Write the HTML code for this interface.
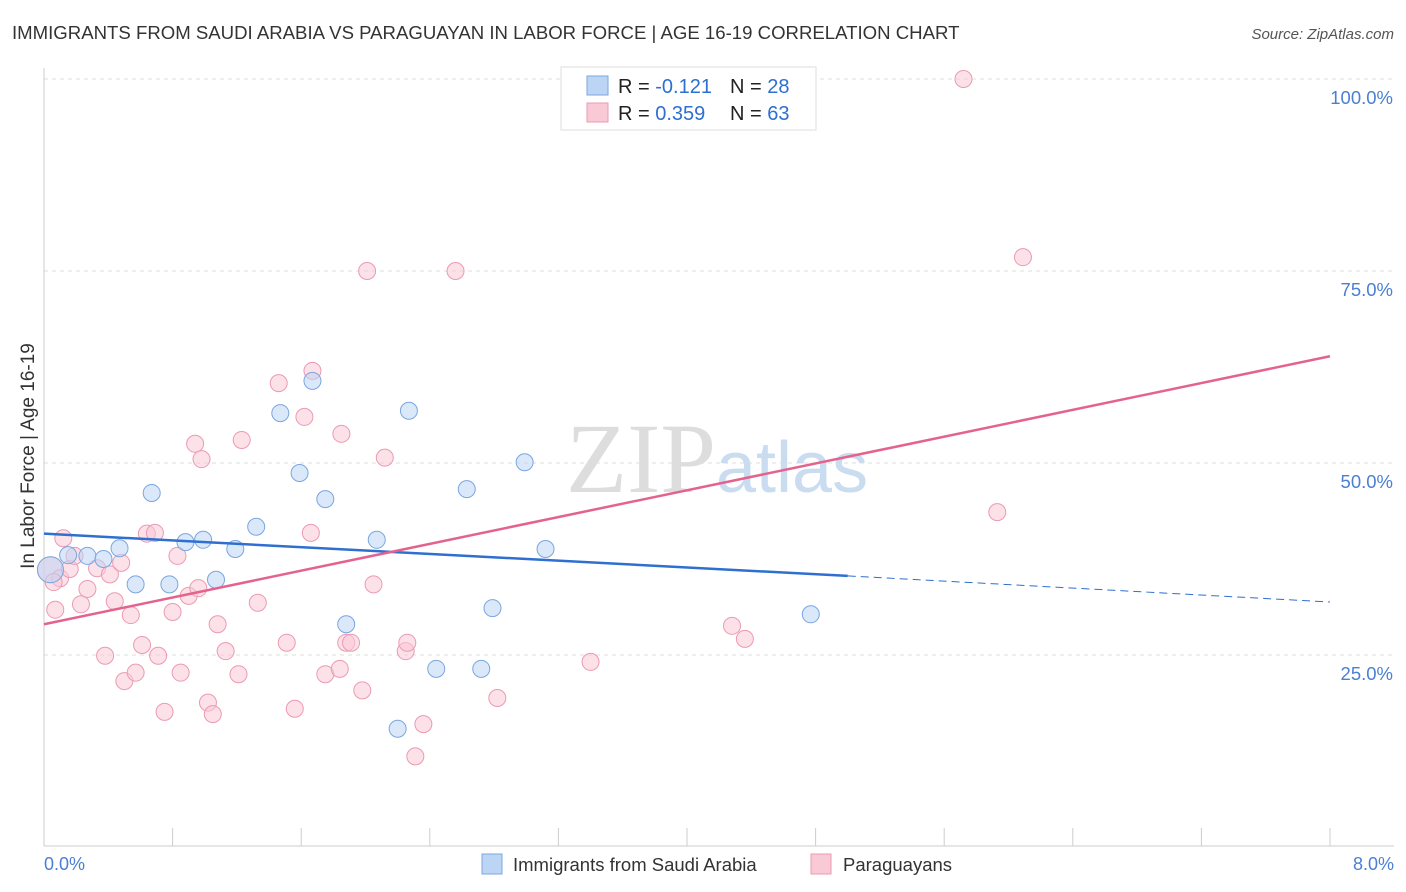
<!DOCTYPE html>
<html><head><meta charset="utf-8"><style>
body{margin:0;background:#fff;font-family:"Liberation Sans",sans-serif;}
svg{display:block}
</style></head><body>
<svg id="chart" width="1406" height="892">
<text x="12" y="39" font-size="18.6" fill="#333">IMMIGRANTS FROM SAUDI ARABIA VS PARAGUAYAN IN LABOR FORCE | AGE 16-19 CORRELATION CHART</text>
<text x="1394" y="39" font-size="15" fill="#555" font-style="italic" text-anchor="end">Source: ZipAtlas.com</text>
<g id="grid"></g>
<g id="axes"></g>
<text x="716" y="492" font-size="100" fill="#ddd" text-anchor="end" font-family="Liberation Serif">ZIP</text>
<text x="716" y="492" font-size="72" fill="#c9dcf0">atlas</text>
<g id="pts"></g>
<g id="lines"></g>
<text transform="translate(34,456) rotate(-90)" font-size="19" fill="#333" text-anchor="middle">In Labor Force | Age 16-19</text>
<text x="44" y="870" font-size="18" fill="#4a7fd4">0.0%</text>
<text x="1394" y="870" font-size="18" fill="#4a7fd4" text-anchor="end">8.0%</text>
<g>
<rect x="561" y="67" width="255" height="63" fill="#fff" stroke="#ddd"/>
<rect x="587" y="76" width="21" height="19" fill="#bcd5f5" stroke="#7aa6e0"/>
<rect x="587" y="103" width="21" height="19" fill="#f9c9d6" stroke="#eb9ab3"/>
<text x="618" y="93" font-size="20" fill="#222">R = <tspan fill="#2e6fd0">-0.121</tspan></text>
<text x="730" y="93" font-size="20" fill="#222">N = <tspan fill="#2e6fd0">28</tspan></text>
<text x="618" y="120" font-size="20" fill="#222">R = <tspan fill="#2e6fd0">0.359</tspan></text>
<text x="730" y="120" font-size="20" fill="#222">N = <tspan fill="#2e6fd0">63</tspan></text>
</g>
<g>
<rect x="482" y="854" width="20" height="20" fill="#bcd5f5" stroke="#7aa6e0"/>
<text x="513" y="871" font-size="18.5" fill="#333">Immigrants from Saudi Arabia</text>
<rect x="811" y="854" width="20" height="20" fill="#f9c9d6" stroke="#eb9ab3"/>
<text x="843" y="871" font-size="18.5" fill="#333">Paraguayans</text>
</g>
</svg>
<script>
const yTicks=[25,50,75,100];
const yTickLabels=["25.0%","50.0%","75.0%","100.0%"];
const blueX=[0.04,0.15,0.27,0.37,0.47,0.57,0.67,0.78,0.88,0.99,1.07,1.19,1.32,1.47,1.59,1.67,1.75,1.88,2.07,2.20,2.27,2.44,2.63,2.72,2.79,2.99,3.12,4.77];
const blueY=[36.1,38.0,37.9,37.5,38.9,34.2,46.1,34.2,39.7,40.0,34.8,38.8,41.7,56.5,48.7,60.7,45.3,29.0,40.0,15.4,56.8,23.2,46.6,23.2,31.1,50.1,38.8,30.3];
const pinkX=[0.04,0.07,0.10,0.12,0.16,0.19,0.23,0.27,0.33,0.38,0.41,0.44,0.48,0.50,0.54,0.57,0.61,0.64,0.69,0.71,0.75,0.80,0.83,0.85,0.90,0.94,0.96,0.98,1.02,1.05,1.08,1.13,1.21,1.23,1.33,1.46,1.51,1.56,1.62,1.66,1.67,1.75,1.84,1.85,1.88,1.91,1.98,2.01,2.05,2.12,2.25,2.26,2.31,2.36,2.56,2.82,3.40,4.28,4.36,5.72,5.93,6.09,0.06];
const pinkY=[36.1,30.9,35.0,40.2,36.2,37.9,31.6,33.6,36.3,24.9,35.5,32.0,37.0,21.6,30.2,22.7,26.3,40.8,40.9,24.9,17.6,30.6,37.9,22.7,32.7,52.5,33.7,50.5,18.8,17.3,29.0,25.5,22.5,53.0,31.8,60.4,26.6,18.0,56.0,40.9,62.0,22.5,23.2,53.8,26.6,26.6,20.4,75.0,34.2,50.7,25.5,26.6,11.8,16.0,75.0,19.4,24.1,28.8,27.1,100,43.6,76.8,34.5];
const blueTrend=[[0,40.8],[5.0,35.3],[8.0,31.9]];
const pinkTrend=[[0,29.0],[8.0,63.9]];
const X0=44,X1=1330,Y0=847,Y100=79;
const sx=v=>X0+(X1-X0)*v/8;
const sy=v=>Y0-(Y0-Y100)*v/100;
const NS="http://www.w3.org/2000/svg";
function mk(tag,attrs,parent){const e=document.createElementNS(NS,tag);for(const k in attrs)e.setAttribute(k,attrs[k]);parent.appendChild(e);return e;}
const grid=document.getElementById('grid'),axes=document.getElementById('axes');
yTicks.forEach((t,i)=>{
 const l=mk('line',{x1:44,x2:1394,y1:sy(t),y2:sy(t),stroke:'#ddd','stroke-dasharray':'4,4'},grid);
 
 
 const tx=mk('text',{x:1393,y:sy(t)+25,'font-size':18.5,fill:'#4a7fd4','text-anchor':'end'},axes);
 tx.textContent=yTickLabels[i];
 
 
});
const ya=mk('line',{x1:44,x2:44,y1:68,y2:846,stroke:'#ccc'},axes);


const xa=mk('line',{x1:44,x2:1394,y1:846,y2:846,stroke:'#ccc'},axes);


for(let i=0;i<=10;i++){
 const t=mk('line',{x1:sx(i*0.8),x2:sx(i*0.8),y1:828,y2:846,stroke:'#ccc'},axes);
 
 
}
const pts=document.getElementById('pts');
function dots(X,Y,fill,stroke,name){
 X.forEach((x,i)=>{
  const r=(i===0)?13:8.5;
  const c=mk('circle',{cx:sx(x),cy:sy(Y[i]),r:r,fill:fill,'fill-opacity':0.55,stroke:stroke,'stroke-width':1},pts);
  
  
 });
}
dots(pinkX,pinkY,'#f9c9d6','#eb9ab3','point-paraguayan');
dots(blueX,blueY,'#bcd5f5','#7aa6e0','point-saudi');
const lines=document.getElementById('lines');
const b1=mk('line',{x1:sx(blueTrend[0][0]),y1:sy(blueTrend[0][1]),x2:sx(blueTrend[1][0]),y2:sy(blueTrend[1][1]),stroke:'#2e6fd0','stroke-width':2.5},lines);


const b2=mk('line',{x1:sx(blueTrend[1][0]),y1:sy(blueTrend[1][1]),x2:sx(blueTrend[2][0]),y2:sy(blueTrend[2][1]),stroke:'#2e6fd0','stroke-width':1,'stroke-dasharray':'8,5'},lines);


const p1=mk('line',{x1:sx(pinkTrend[0][0]),y1:sy(pinkTrend[0][1]),x2:sx(pinkTrend[1][0]),y2:sy(pinkTrend[1][1]),stroke:'#e4638e','stroke-width':2.5},lines);


</script>
</body></html>
